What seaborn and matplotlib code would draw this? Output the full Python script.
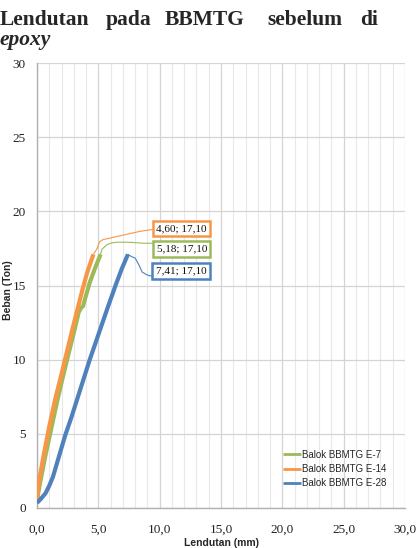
import numpy as np
import pandas as pd
import matplotlib
matplotlib.use("Agg")
import matplotlib.pyplot as plt
import seaborn as sns

# ---------------- data ----------------
series_names = ["Balok BBMTG E-7", "Balok BBMTG E-14", "Balok BBMTG E-28"]

e7_x = [0.0, 0.1, 0.3, 0.7, 1.2, 1.7, 2.1, 2.6, 3.0, 3.4, 3.6, 3.75, 3.95, 4.3, 4.7, 5.18]
e7_y = [0.3, 1.0, 1.9, 3.6, 5.5, 7.4, 8.8, 10.5, 11.8, 13.2, 13.5, 13.6, 14.2, 15.2, 16.1, 17.10]

e14_x = [0.0, 0.08, 0.2, 0.6, 1.0, 1.5, 1.9, 2.4, 2.9, 3.3, 3.7, 4.1, 4.60]
e14_y = [0.5, 1.2, 2.0, 3.8, 5.5, 7.4, 8.7, 10.4, 12.1, 13.4, 14.7, 15.9, 17.10]

e28_x = [0.0, 0.3, 0.7, 1.0, 1.3, 1.8, 2.3, 2.8, 3.3, 3.8, 4.3, 4.8, 5.3, 5.8, 6.4, 6.9, 7.41]
e28_y = [0.35, 0.6, 1.0, 1.5, 2.1, 3.5, 4.9, 6.1, 7.4, 8.7, 10.0, 11.2, 12.4, 13.6, 15.0, 16.1, 17.10]

# thin post-peak traces
e7_post_x = [5.18, 5.3, 5.7, 6.0, 6.5, 7.4, 8.7, 9.6]
e7_post_y = [17.10, 17.45, 17.75, 17.85, 17.92, 17.92, 17.85, 17.85]
e14_post_x = [4.60, 4.9, 5.1, 5.4, 5.7, 6.5, 7.3, 8.4, 9.6]
e14_post_y = [17.10, 17.5, 17.95, 18.1, 18.15, 18.3, 18.45, 18.65, 18.8]
e28_post_x = [7.41, 7.7, 8.0, 8.3, 8.58, 9.0, 9.5]
e28_post_y = [17.10, 16.95, 16.85, 16.4, 15.9, 15.7, 15.6]

peak_x = [5.18, 4.60, 7.41]
peak_y = [17.10, 17.10, 17.10]

x_ticks = [0, 5, 10, 15, 20, 25, 30]
y_ticks = [0, 5, 10, 15, 20, 25, 30]

title_words = ["Lendutan", "pada", "BBMTG", "sebelum", "di"]
title_line2 = "epoxy"
x_label = "Lendutan (mm)"
y_label = "Beban (Ton)"

# ---------------- styling ----------------
colors = ["#9BBB59", "#F79646", "#4F81BD"]
label_pos = [(11.8, 17.45), (11.8, 18.85), (11.75, 15.97)]
title_x_px = [0, 106, 165, 267, 360]

sns.set_style("white")
plt.rcParams["font.family"] = ["Liberation Serif", "DejaVu Serif"]

W, H = 416, 548
fig = plt.figure(figsize=(W / 100, H / 100), dpi=100)
ax = fig.add_axes([37 / W, 40 / H, 368 / W, 445 / H])

main = pd.DataFrame({
    "x": e7_x + e14_x + e28_x,
    "y": e7_y + e14_y + e28_y,
    "Seri": [series_names[0]] * len(e7_x) + [series_names[1]] * len(e14_x) + [series_names[2]] * len(e28_x),
})
post = pd.DataFrame({
    "x": e7_post_x + e14_post_x + e28_post_x,
    "y": e7_post_y + e14_post_y + e28_post_y,
    "Seri": [series_names[0]] * len(e7_post_x) + [series_names[1]] * len(e14_post_x) + [series_names[2]] * len(e28_post_x),
})
pal = dict(zip(series_names, colors))

sns.lineplot(data=post, x="x", y="y", hue="Seri", hue_order=series_names, palette=pal,
             sort=False, estimator=None, lw=0.8, ax=ax, legend=False, zorder=3)
sns.lineplot(data=main, x="x", y="y", hue="Seri", hue_order=series_names, palette=pal,
             sort=False, estimator=None, lw=3, ax=ax, zorder=4, solid_capstyle="butt")

ax.set_xlim(0, 30)
ax.set_ylim(0, 30)
ax.set_xticks(x_ticks)
ax.set_xticklabels([f"{v:.1f}".replace(".", ",") for v in x_ticks])
ax.set_yticks(y_ticks)
ax.set_yticklabels([str(v) for v in y_ticks])
ax.set_xticks(np.arange(0, 31, 1), minor=True)
ax.tick_params(axis="both", which="both", length=0, labelsize=9.5, colors="#222222")
ax.tick_params(axis="x", pad=11)
ax.tick_params(axis="y", pad=8)
ax.grid(True, which="major", axis="both", color="#d4d4d4", lw=0.9)
ax.grid(True, which="minor", axis="x", color="#e8e8e8", lw=0.8)
ax.set_axisbelow(True)
for s in ["top", "right"]:
    ax.spines[s].set_visible(False)
for s in ["left", "bottom"]:
    ax.spines[s].set_color("#b0b0b0")
    ax.spines[s].set_linewidth(1.0)

ax.set_xlabel("")
ax.set_ylabel("")
sans_bold = dict(family=["Liberation Sans Narrow", "Liberation Sans", "DejaVu Sans"], weight="bold", size=7.5)
fig.text(221 / W, 1 - 543 / H, x_label, ha="center", va="center", **sans_bold)
fig.text(8.5 / W, 1 - 290 / H, y_label, ha="center", va="center", rotation=90, **sans_bold)

# data labels
for px, py, (lx, ly), c in zip(peak_x, peak_y, label_pos, colors):
    txt = f"{px:.2f}".replace(".", ",") + "; " + f"{py:.2f}".replace(".", ",")
    ax.text(lx, ly, txt, ha="center", va="center", fontsize=8, color="#111111", zorder=6,
            bbox=dict(boxstyle="square,pad=0.3", fc="white", ec=c, lw=1.8))

# legend
handles, labels = ax.get_legend_handles_labels()
leg = fig.legend(handles, labels, loc="center left", bbox_to_anchor=(283 / W, 1 - 469 / H),
                 bbox_transform=fig.transFigure, frameon=False, borderpad=0, borderaxespad=0,
                 handlelength=1.8, handletextpad=0.2, labelspacing=0.45,
                 prop=dict(family=["Liberation Sans Narrow", "Liberation Sans", "DejaVu Sans"], size=7))
for l in leg.get_lines():
    l.set_linewidth(2)
if ax.get_legend():
    ax.get_legend().remove()

# title
for w, xp in zip(title_words, title_x_px):
    fig.text(xp / W, 1 - 25 / H, w, ha="left", va="baseline", fontsize=15.5, weight="bold",
             family=["Liberation Serif", "DejaVu Serif"])
fig.text(0, 1 - 45 / H, title_line2, ha="left", va="baseline", fontsize=15.5, weight="bold",
         style="italic", family=["Liberation Serif", "DejaVu Serif"])

fig.savefig("out.png", dpi=100)
